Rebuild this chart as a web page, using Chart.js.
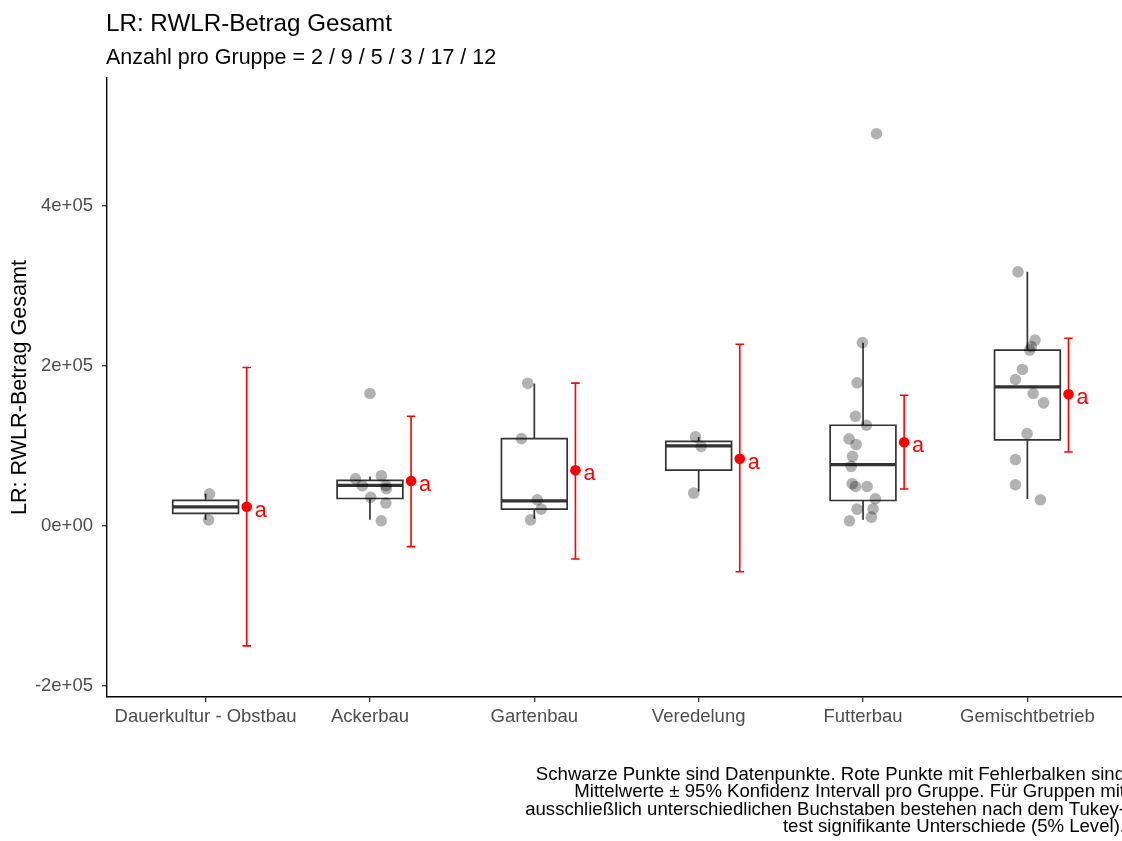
<!DOCTYPE html>
<html>
<head>
<meta charset="utf-8">
<script src="https://cdn.jsdelivr.net/npm/chart.js@4.4.0/dist/chart.umd.min.js"></script>
<style>
  html, body { margin: 0; padding: 0; background: #ffffff; overflow: hidden; }
  canvas { display: block; }
</style>
</head>
<body>
<canvas id="chart" width="1140" height="841"></canvas>
<script>
// ---- data ----
const categories = ['Dauerkultur - Obstbau', 'Ackerbau', 'Gartenbau', 'Veredelung', 'Futterbau', 'Gemischtbetrieb'];
const groupSizes = [2, 9, 5, 3, 17, 12];

// individual observations per group and their horizontal jitter (category units)
const pointValues = [
  [40100, 7500],
  [165500, 58900, 50200, 62700, 50200, 46400, 35700, 28500, 6300],
  [178100, 109100, 32600, 20900, 7500],
  [111200, 99400, 41000],
  [490300, 229100, 178900, 137000, 125800, 108700, 101600, 86900, 74400, 52700, 49300, 49300, 33900, 20900, 21300, 10900, 6300],
  [317600, 232300, 224100, 219800, 195600, 183000, 165500, 153800, 115400, 82800, 51400, 32600]
];
const pointJitter = [
  [0.024, 0.018],
  [0.000, -0.088, -0.047, 0.069, 0.097, 0.100, 0.004, 0.097, 0.069],
  [-0.040, -0.078, 0.018, 0.042, -0.023],
  [-0.019, 0.015, -0.030],
  [0.082, -0.004, -0.036, -0.046, 0.021, -0.085, -0.042, -0.064, -0.072, -0.066, -0.046, 0.025, 0.075, -0.036, 0.061, 0.051, -0.083],
  [-0.057, 0.047, 0.024, 0.014, -0.030, -0.073, 0.035, 0.099, -0.002, -0.073, -0.073, 0.079]
];

// box plot statistics
const whiskerLow  = [7500, 7500, 8800, 43000, 7500, 33500];
const boxQ1       = [15700, 34200, 20900, 69800, 31700, 107500];
const boxMedian   = [23800, 50500, 31300, 100000, 76500, 173900];
const boxQ3       = [31900, 56800, 109100, 105700, 125800, 219800];
const whiskerHigh = [40100, 61800, 178100, 111200, 229100, 317600];

// group means with 95% confidence interval and Tukey letters
const meanValues = [23800, 56000, 69600, 83900, 104500, 164500];
const ciLow      = [-150100, -26000, -41400, -57300, 46000, 92400];
const ciHigh     = [198100, 137000, 178500, 227000, 163400, 234500];
const tukeyLetters = ['a', 'a', 'a', 'a', 'a', 'a'];

const yTicks = [-200000, 0, 200000, 400000];

const titleText = 'LR: RWLR-Betrag Gesamt';
const subtitleText = 'Anzahl pro Gruppe = ' + groupSizes.join(' / ');
const yAxisTitle = 'LR: RWLR-Betrag Gesamt';
const captionLines = [
  'Schwarze Punkte sind Datenpunkte. Rote Punkte mit Fehlerbalken sind',
  'Mittelwerte \u00B1 95% Konfidenz Intervall pro Gruppe. F\u00FCr Gruppen mit',
  'ausschlie\u00DFlich unterschiedlichen Buchstaben bestehen nach dem Tukey-',
  'test signifikante Unterschiede (5% Level).'
];

// ---- geometry helpers (category units) ----
const FONT = '"Liberation Sans", Arial, Helvetica, sans-serif';
const BOX_HALF = 0.2;
const ERR_SHIFT = 0.25;
const CAP_HALF = 0.026;

function polylines(list) {
  const out = [];
  list.forEach((poly, k) => {
    if (k) out.push({ x: poly[0][0], y: null });
    poly.forEach(p => out.push({ x: p[0], y: p[1] }));
  });
  return out;
}

const boxRects = categories.map((c, i) => [
  [i - BOX_HALF, boxQ1[i]], [i + BOX_HALF, boxQ1[i]], [i + BOX_HALF, boxQ3[i]],
  [i - BOX_HALF, boxQ3[i]], [i - BOX_HALF, boxQ1[i]], [i + BOX_HALF, boxQ1[i]]
]);
const medianLines = categories.map((c, i) => [[i - BOX_HALF, boxMedian[i]], [i + BOX_HALF, boxMedian[i]]]);
const whiskerLines = [];
categories.forEach((c, i) => {
  whiskerLines.push([[i, boxQ3[i]], [i, whiskerHigh[i]]]);
  whiskerLines.push([[i, boxQ1[i]], [i, whiskerLow[i]]]);
});
const errorLines = [];
categories.forEach((c, i) => {
  const x = i + ERR_SHIFT;
  errorLines.push([[x, ciLow[i]], [x, ciHigh[i]]]);
  errorLines.push([[x - CAP_HALF, ciLow[i]], [x + CAP_HALF, ciLow[i]]]);
  errorLines.push([[x - CAP_HALF, ciHigh[i]], [x + CAP_HALF, ciHigh[i]]]);
});
const jitterPoints = [];
pointValues.forEach((vals, i) => vals.forEach((v, k) => jitterPoints.push({ x: i + pointJitter[i][k], y: v })));
const meanPoints = meanValues.map((m, i) => ({ x: i + ERR_SHIFT, y: m }));

function sci(v) {
  if (v === 0) return '0e+00';
  const e = Math.floor(Math.log10(Math.abs(v)));
  const m = Math.round(v / Math.pow(10, e));
  return m + 'e' + (e >= 0 ? '+' : '-') + String(Math.abs(e)).padStart(2, '0');
}

const lineSet = (data, color, width) => ({
  data, showLine: true, spanGaps: false, borderColor: color, borderWidth: width,
  pointRadius: 0, pointHoverRadius: 0, fill: false, tension: 0, borderJoinStyle: 'miter'
});

// letters beside the means, titles and caption
const textLayer = {
  id: 'textLayer',
  afterDatasetsDraw(chart) {
    const { ctx, scales: { x, y } } = chart;
    ctx.save();
    ctx.fillStyle = '#FF0000';
    ctx.font = '21.5px ' + FONT;
    ctx.textAlign = 'left';
    ctx.textBaseline = 'alphabetic';
    tukeyLetters.forEach((t, i) => {
      ctx.fillText(t, x.getPixelForValue(i + ERR_SHIFT) + 8, y.getPixelForValue(meanValues[i]) + 10);
    });
    ctx.restore();
  },
  afterDraw(chart) {
    const { ctx } = chart;
    ctx.save();
    ctx.fillStyle = '#000000';
    ctx.textBaseline = 'alphabetic';
    ctx.textAlign = 'left';
    ctx.font = '24.2px ' + FONT;
    ctx.fillText(titleText, 106, 31);
    ctx.font = '21.5px ' + FONT;
    ctx.fillText(subtitleText, 106, 64);
    ctx.font = '18.6px ' + FONT;
    ctx.textAlign = 'right';
    captionLines.forEach((line, k) => ctx.fillText(line, 1125, 780 + k * 17.3));
    ctx.restore();
  }
};

const tickFont = { family: FONT, size: 18.5 };

new Chart(document.getElementById('chart'), {
  type: 'scatter',
  data: {
    datasets: [
      { data: meanPoints, backgroundColor: '#FF0000', borderWidth: 0, pointRadius: 5.3, pointHoverRadius: 5.3 },
      lineSet(polylines(errorLines), '#FF0000', 1.6),
      { data: jitterPoints, backgroundColor: 'rgba(0,0,0,0.3)', borderWidth: 0, pointRadius: 5.8, pointHoverRadius: 5.8 },
      lineSet(polylines(medianLines), '#333333', 3.2),
      lineSet(polylines(whiskerLines), '#333333', 1.7),
      lineSet(polylines(boxRects), '#333333', 1.7)
    ]
  },
  options: {
    responsive: false,
    animation: false,
    events: [],
    layout: { padding: { top: 78, right: 14, bottom: 104, left: 0 } },
    plugins: { legend: { display: false }, tooltip: { enabled: false } },
    scales: {
      x: {
        type: 'linear', min: -0.6, max: 5.6,
        afterBuildTicks: s => { s.ticks = categories.map((c, i) => ({ value: i })); },
        afterFit: s => { s.height = 40; },
        ticks: { callback: v => categories[v], color: '#4D4D4D', font: tickFont, padding: 4, maxRotation: 0, autoSkip: false },
        grid: { display: true, drawOnChartArea: false, drawTicks: true, tickLength: 5, color: '#333333', lineWidth: 1.3 },
        border: { display: true, color: '#000000', width: 1.4 }
      },
      y: {
        type: 'linear', min: -214000, max: 560000,
        afterBuildTicks: s => { s.ticks = yTicks.map(v => ({ value: v })); },
        afterFit: s => { s.width = 107; },
        ticks: { callback: v => sci(v), color: '#4D4D4D', font: tickFont, padding: 9 },
        grid: { display: true, drawOnChartArea: false, drawTicks: true, tickLength: 5, color: '#333333', lineWidth: 1.3 },
        border: { display: true, color: '#000000', width: 1.4 },
        title: { display: true, text: yAxisTitle, color: '#000000', font: { family: FONT, size: 21.6 }, padding: { top: 7, bottom: 0 } }
      }
    }
  },
  plugins: [textLayer]
});
</script>
</body>
</html>
